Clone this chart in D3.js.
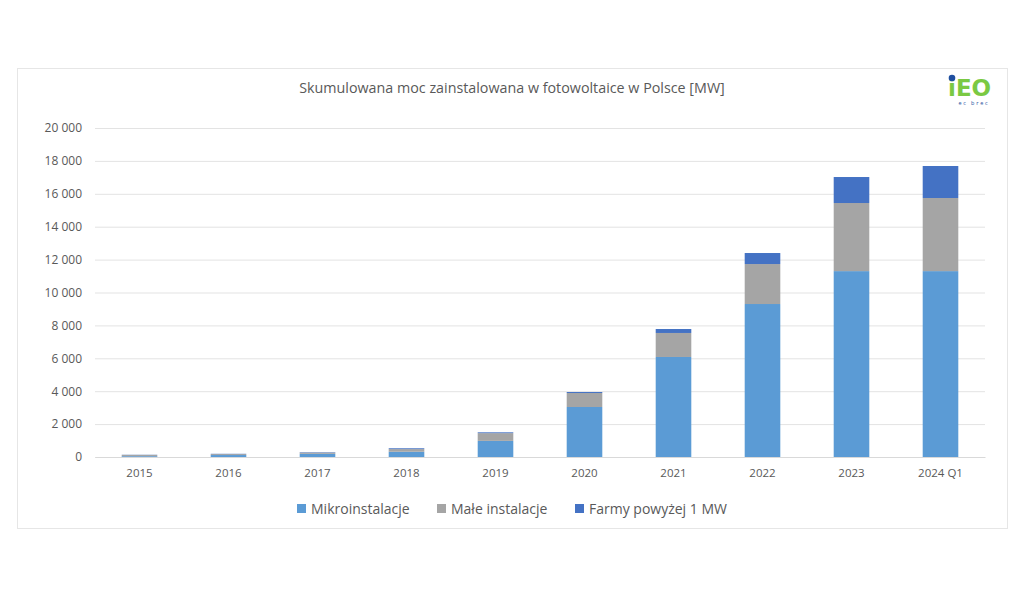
<!DOCTYPE html>
<html>
<head>
<meta charset="utf-8">
<script src="https://cdn.jsdelivr.net/npm/d3@7"></script>
<style>
  body { margin: 0; background: #fff; }
  text { font-family: "Open Sans", "Liberation Sans", sans-serif; }
</style>
</head>
<body>
<svg></svg>
<script>
// data (MW, cumulative)
let years = ["2015", "2016", "2017", "2018", "2019", "2020", "2021", "2022", "2023", "2024 Q1"];
let mikro = [50, 120, 190, 320, 980, 3040, 6080, 9300, 11300, 11300];
let male = [80, 60, 80, 160, 470, 850, 1460, 2430, 4140, 4445];
let farmy = [10, 15, 25, 50, 50, 60, 240, 670, 1580, 1945];
let seriesNames = ["Mikroinstalacje", "Małe instalacje", "Farmy powyżej 1 MW"];
let colors = ["#5b9bd5", "#a5a5a5", "#4472c4"];
let yTicks = [0, 2000, 4000, 6000, 8000, 10000, 12000, 14000, 16000, 18000, 20000];

let width = 1024;
let height = 614;
let plotLeft = 95, plotRight = 985, plotTop = 128, plotBottom = 457;

let svg = d3.select("svg").attr("width", width).attr("height", height);

// outer frame
svg.append("rect")
  .attr("x", 17.5).attr("y", 68.5)
  .attr("width", 990).attr("height", 460)
  .attr("fill", "#fff").attr("stroke", "#e6e6e6");

svg.append("text")
  .attr("x", 512).attr("y", 93)
  .attr("text-anchor", "middle")
  .style("font-size", "14.3px")
  .attr("fill", "#595959")
  .text("Skumulowana moc zainstalowana w fotowoltaice w Polsce [MW]");

// logo
let logo = svg.append("g").attr("transform", "translate(948, 96)");
logo.append("text").attr("x", 0).attr("y", 0)
  .style("font-size", "23px").style("font-weight", "bold")
  .style("font-family", "DejaVu Sans, sans-serif")
  .attr("fill", "#7ac943").text("iEO");
logo.append("circle").attr("cx", 4).attr("cy", -18).attr("r", 3.3).attr("fill", "#1f4fa0");
logo.append("text").attr("x", 26).attr("y", 9)
  .attr("text-anchor", "middle")
  .style("font-size", "5.5px").style("letter-spacing", "1.8px")
  .attr("fill", "#1f4fa0").text("ec brec");

let x = d3.scaleBand().domain(years).range([plotLeft, plotRight]).paddingInner(0.6).paddingOuter(0.3);
let y = d3.scaleLinear().domain([0, 20000]).range([plotBottom, plotTop]);

let fmt = (d) => d3.format(",")(d).replace(/,/g, " ");

// grid
let yAxis = d3.axisLeft(y).tickValues(yTicks).tickSize(-(plotRight - plotLeft)).tickFormat(fmt);
let gy = svg.append("g").attr("transform", `translate(${plotLeft}, 0)`).call(yAxis);
gy.select(".domain").remove();
gy.selectAll(".tick line").attr("stroke", "#e3e3e3");
gy.selectAll(".tick text").attr("x", -13).attr("fill", "#595959").style("font-size", "12px");

// stacked bars
let table = years.map((yr, i) => ({ year: yr, m: mikro[i], s: male[i], f: farmy[i] }));
let stacked = d3.stack().keys(["m", "s", "f"])(table);

svg.append("g").selectAll("g")
  .data(stacked)
  .enter()
  .append("g")
  .attr("fill", (d, i) => colors[i])
  .selectAll("rect")
  .data((d) => d)
  .enter()
  .append("rect")
  .attr("x", (d) => x(d.data.year))
  .attr("width", x.bandwidth())
  .attr("y", (d) => y(d[1]))
  .attr("height", (d) => y(d[0]) - y(d[1]));

// x axis
let xAxis = d3.axisBottom(x).tickSize(0).tickPadding(12);
let gx = svg.append("g").attr("transform", `translate(0, ${plotBottom})`).call(xAxis);
gx.select(".domain").attr("stroke", "#d9d9d9");
gx.selectAll(".tick text").attr("fill", "#595959").style("font-size", "11.5px");

// legend
let legendX = [297, 437, 575];
let legend = svg.append("g");
seriesNames.forEach((name, i) => {
  legend.append("rect")
    .attr("x", legendX[i]).attr("y", 504)
    .attr("width", 9).attr("height", 9)
    .attr("fill", colors[i]);
  legend.append("text")
    .attr("x", legendX[i] + 14).attr("y", 514)
    .attr("fill", "#595959")
    .style("font-size", "14px")
    .text(name);
});
</script>
</body>
</html>
